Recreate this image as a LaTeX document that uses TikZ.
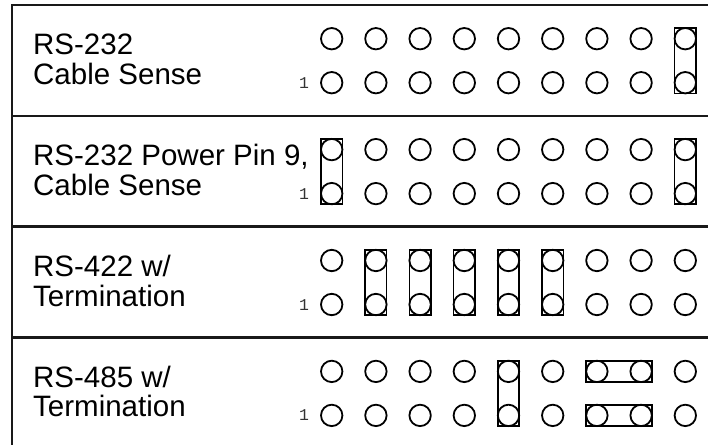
\documentclass[tikz,border=0pt]{standalone}
\usepackage{fontspec}
\setmainfont{Liberation Sans}
\newfontfamily\pinfont{Liberation Mono}
\newcommand\vjump[2]{%
  \draw[jumper] (p#1-#2-t.north -| p#1-#2-t.west) rectangle (p#1-#2-b.south -| p#1-#2-b.east);}
\newcommand\hjump[4]{%
  \draw[jumper] (p#1-#2-#4.north -| p#1-#2-#4.west) rectangle (p#1-#3-#4.south -| p#1-#3-#4.east);}
\begin{document}
\begin{tikzpicture}[x=1pt,y=-1pt,
  frame/.style={line width=2.2pt, draw=black!90},
  pin/.style={circle, draw=black, line width=1.8pt, minimum size=21.4pt, inner sep=0pt, outer sep=0pt},
  jumper/.style={draw=black, line width=1.7pt},
  lbl/.style={anchor=base west, inner sep=0pt, font=\fontsize{29.5}{30}\selectfont},
  one/.style={anchor=base, inner sep=0pt, font=\pinfont\fontsize{16.5}{16.5}\selectfont, text=black!80}]
\useasboundingbox (0,0) rectangle (708,444);
\clip (0,0) rectangle (708,444);
% frame
\draw[frame] (720,4.7) -| (11.7,450);
\foreach \k in {1,2,3}{
  \draw[frame] (11.7,{4.7+110.9*\k}) -- (720,{4.7+110.9*\k});
}
% pins
\foreach \r in {1,...,4}{
  \pgfmathsetmacro\yt{4.7+110.9*(\r-1)+34}
  \pgfmathsetmacro\yb{\yt+44}
  \foreach \c in {1,...,9}{
    \pgfmathsetmacro\xx{331.7+44.2*(\c-1)}
    \node[pin] (p\r-\c-t) at (\xx,\yt) {};
    \node[pin] (p\r-\c-b) at (\xx,\yb) {};
  }
  \node[one] (one\r) at (304,{\yb+5.5}) {1};
}
% labels
\node[lbl] (l1a) at (33,{4.7+34+44+1-29}) {RS-232};
\node[lbl] (l1b) at (33,{4.7+34+44+1.5}) {Cable Sense};
\node[lbl] (l2a) at (33,{4.7+110.9+34+44+1-29}) {RS-232 Power Pin 9,};
\node[lbl] (l2b) at (33,{4.7+110.9+34+44+1.5}) {Cable Sense};
\node[lbl] (l3a) at (33,{4.7+2*110.9+34+44+1-29}) {RS-422 w/};
\node[lbl] (l3b) at (33,{4.7+2*110.9+34+44+1.5}) {Termination};
\node[lbl] (l4a) at (33,{4.7+3*110.9+34+44+1-29}) {RS-485 w/};
\node[lbl] (l4b) at (33,{4.7+3*110.9+34+44+1.5}) {Termination};
% jumpers
\vjump{1}{9}
\vjump{2}{1}
\vjump{2}{9}
\vjump{3}{2}
\vjump{3}{3}
\vjump{3}{4}
\vjump{3}{5}
\vjump{3}{6}
\vjump{4}{5}
\hjump{4}{7}{8}{t}
\hjump{4}{7}{8}{b}
\end{tikzpicture}
\end{document}
